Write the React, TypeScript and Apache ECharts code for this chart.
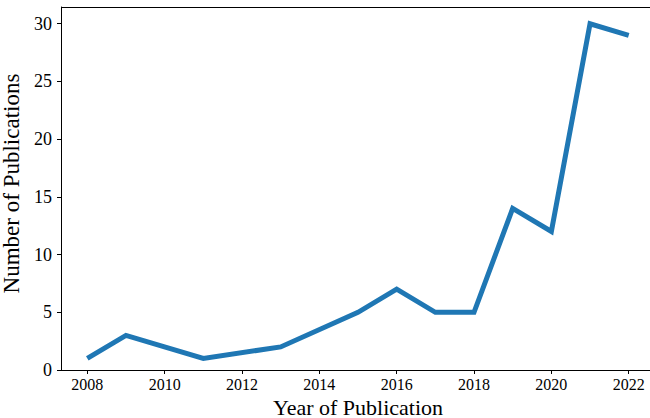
import React, { useEffect, useRef } from "react";
import * as echarts from "echarts";

// Publications per year
const years = [2008, 2009, 2011, 2013, 2015, 2016, 2017, 2018, 2019, 2020, 2021, 2022];
const counts = [1, 3, 1, 2, 5, 7, 5, 5, 14, 12, 30, 29];

const xTicks = [2008, 2010, 2012, 2014, 2016, 2018, 2020, 2022];
const yTicks = [0, 5, 10, 15, 20, 25, 30];

const FONT = "'Liberation Serif', 'DejaVu Serif', serif";

export default function App() {
  const ref = useRef<HTMLDivElement>(null);

  useEffect(() => {
    if (!ref.current) return;
    const chart = echarts.init(ref.current, null, { renderer: "svg" });
    chart.setOption({
      animation: false,
      backgroundColor: "#ffffff",
      grid: {
        left: 61,
        right: -5,
        top: 7,
        bottom: 48,
        containLabel: false,
        outerBoundsMode: "none",
      },
      xAxis: {
        type: "value",
        min: 2007.32,
        max: 2022.68,
        name: "Year of Publication",
        nameLocation: "middle",
        nameGap: 20,
        nameTextStyle: { fontFamily: FONT, fontSize: 22, lineHeight: 22, color: "#000" },
        axisLine: { show: true, onZero: false, lineStyle: { color: "#000", width: 1 } },
        axisTick: { show: true, length: 4, customValues: xTicks, lineStyle: { color: "#000" } },
        axisLabel: {
          customValues: xTicks,
          fontFamily: FONT,
          fontSize: 16,
          color: "#000",
          margin: 6,
          formatter: (v: number) => String(v),
        },
        splitLine: { show: false },
      },
      yAxis: {
        type: "value",
        min: 0,
        max: 31.45,
        name: "Number of Publications",
        nameLocation: "middle",
        nameRotate: 90,
        nameGap: 33,
        nameTextStyle: {
          fontFamily: FONT,
          fontSize: 23,
          color: "#000",
          padding: [0, 0, 0, 10],
        },
        axisLine: { show: true, lineStyle: { color: "#000", width: 1 } },
        axisTick: { show: true, length: 4, customValues: yTicks, lineStyle: { color: "#000" } },
        axisLabel: {
          customValues: yTicks,
          fontFamily: FONT,
          fontSize: 18,
          color: "#000",
          margin: 9,
        },
        splitLine: { show: false },
      },
      graphic: [
        {
          type: "line",
          shape: { x1: 61, y1: 7.5, x2: 650, y2: 7.5 },
          style: { stroke: "#000", lineWidth: 1 },
          silent: true,
        },
      ],
      series: [
        {
          type: "line",
          data: years.map((y, i) => [y, counts[i]]),
          showSymbol: false,
          lineStyle: { color: "#1f77b4", width: 5, join: "miter" },
          itemStyle: { color: "#1f77b4" },
        },
      ],
    });
    return () => chart.dispose();
  }, []);

  return (
    <div
      ref={ref}
      style={{ position: "fixed", left: 0, top: 0, width: 650, height: 418 }}
    />
  );
}
